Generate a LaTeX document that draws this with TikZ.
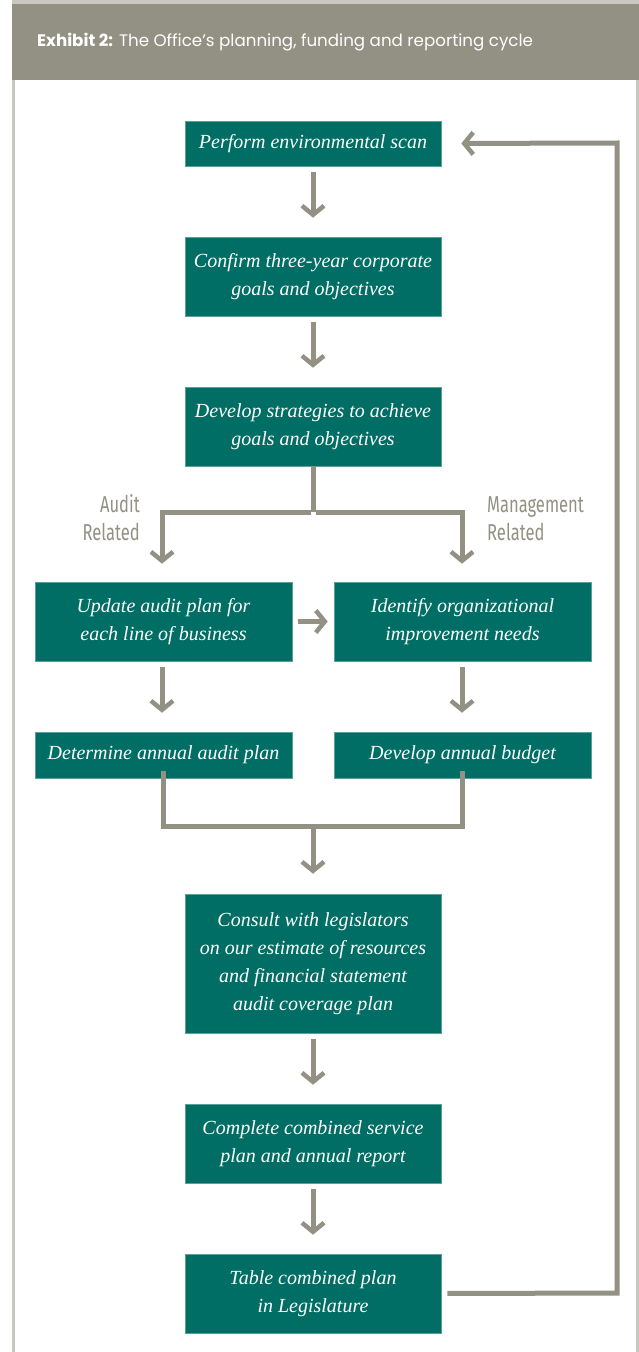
\documentclass[tikz,border=0pt]{standalone}
\usepackage{fontspec}
\setmainfont{Liberation Serif}
\newfontfamily\headfont{Poppins}
\newfontfamily\lblfont[FakeStretch=0.72]{Fira Sans}
\usetikzlibrary{arrows.meta}
\definecolor{teal}{RGB}{0,110,100}
\definecolor{tealedge}{RGB}{90,160,150}
\definecolor{warmgray}{RGB}{147,145,131}
\definecolor{framegray}{RGB}{200,200,192}
\tikzset{
  box/.style={fill=teal, draw=tealedge, line width=0.6pt, text=white, align=center,
    inner sep=0pt, font=\fontsize{20}{28}\selectfont\itshape},
  conn/.style={draw=warmgray, line width=5pt},
  arr/.style={conn, -{Straight Barb[length=9pt,width=22pt,line width=4.5pt]}},
  lbl/.style={text=warmgray, font=\lblfont\fontsize{23}{28}\selectfont, inner sep=0pt},
}
\begin{document}
\begin{tikzpicture}[x=1pt,y=-1pt]
\useasboundingbox (0,0) rectangle (639,1352);
\fill[white] (0,0) rectangle (639,1352);
% frame
\fill[framegray] (12,0) rectangle (639,4);
\fill[framegray] (12,80) rectangle (15,1352);
\fill[framegray] (636,80) rectangle (639,1352);
\fill[warmgray] (12,4) rectangle (639,80);
\node[anchor=base west, text=white, inner sep=0pt, font=\headfont\fontsize{16.7}{20}\selectfont] (hdr) at (37,46)
  {\textbf{Exhibit 2:} The Office’s planning, funding and reporting cycle};

% boxes
\node[box, minimum width=256pt, minimum height=45pt] (b1) at (313,143.5) {Perform environmental scan};
\node[box, minimum width=256pt, minimum height=79pt] (b2) at (313,276.5) {Confirm three-year corporate\\goals and objectives};
\node[box, minimum width=256pt, minimum height=79pt] (b3) at (313,426.5) {Develop strategies to achieve\\goals and objectives};
\node[box, minimum width=257pt, minimum height=79pt] (b4) at (163.5,621.5) {Update audit plan for\\each line of business};
\node[box, minimum width=257pt, minimum height=79pt] (b5) at (462.5,621.5) {Identify organizational\\improvement needs};
\node[box, minimum width=257pt, minimum height=46pt] (b6) at (163.5,755) {Determine annual audit plan};
\node[box, minimum width=257pt, minimum height=46pt] (b7) at (462.5,755) {Develop annual budget};
\node[box, minimum width=256pt, minimum height=139pt] (b8) at (313,963.5) {Consult with legislators\\on our estimate of resources\\and financial statement\\audit coverage plan};
\node[box, minimum width=256pt, minimum height=79pt] (b9) at (313,1143.5) {Complete combined service\\plan and annual report};
\node[box, minimum width=256pt, minimum height=79pt] (b10) at (313,1293.5) {Table combined plan\\in Legislature};

% labels
\node[lbl, anchor=base east, align=right] (la) at (140,540) {Audit\\Related};
\node[lbl, anchor=base west, align=left] (lm) at (487,540) {Management\\Related};

% coordinates
\coordinate (split) at (313,512);
\coordinate (sl) at (162,512);
\coordinate (sr) at (462,512);
\coordinate (merge) at (313,826);
\coordinate (ml) at (163,826);
\coordinate (mr) at (462,826);
\coordinate (rb) at (617,1293);
\coordinate (rt) at (617,143);

% straight arrows
\draw[arr, shorten <=6pt, shorten >=19pt] (b1.south) -- (b2.north);
\draw[arr, shorten <=6pt, shorten >=19pt] (b2.south) -- (b3.north);
\draw[arr, shorten <=6pt, shorten >=19pt] (b4.south) ++(-1.5,0) coordinate (t4) (t4) -- (t4 |- b6.north);
\draw[arr, shorten <=6pt, shorten >=19pt] (b5.south) ++(-0.5,0) coordinate (t5) (t5) -- (t5 |- b7.north);
\draw[arr, shorten <=6pt, shorten >=19pt] (b8.south) -- (b9.north);
\draw[arr, shorten <=6pt, shorten >=19pt] (b9.south) -- (b10.north);
\draw[arr, shorten <=6pt, shorten >=6pt] (b4.east) -- (b5.west);

% split
\draw[conn] (b3.south) -- (split);
\draw[arr, shorten >=18pt] ([xshift=-2.5pt]split) -- (sl) -- (sl |- b4.north);
\draw[arr, shorten >=18pt] ([xshift=2.5pt]split) -- (sr) -- (sr |- b5.north);

% merge
\draw[conn, line cap=rect] ([yshift=5pt]b6.south -| ml) -- (ml) -- (mr) -- ([yshift=5pt]b7.south -| mr);
\draw[arr, shorten >=20pt] ([yshift=-2.5pt]merge) -- (merge |- b8.north);

% return loop
\draw[arr, shorten <=6pt, shorten >=20pt] (b10.east) -- (rb) -- (rt) -- (b1.east);
\end{tikzpicture}
\end{document}
